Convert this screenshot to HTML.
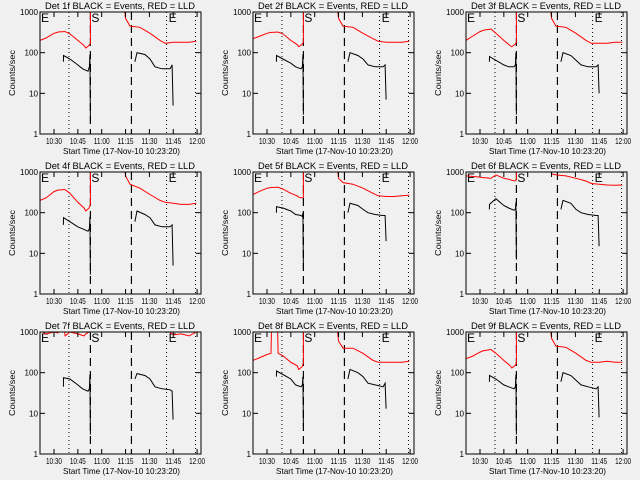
<!DOCTYPE html>
<html><head><meta charset="utf-8"><style>
html,body{margin:0;padding:0;background:#f0f0f0}
svg{display:block}
text{font-family:"Liberation Sans",sans-serif;fill:#000}
</style></head><body>
<svg id="chart" width="640" height="480" viewBox="0 0 640 480" xmlns="http://www.w3.org/2000/svg">
<rect width="640" height="480" fill="#f0f0f0"/>
</svg>
<script>
// times in minutes after 10:00
const redTimesA = [21.2, 25, 30, 32.5, 33, 36.5, 37, 40, 45, 48.9, 50, 52, 52.9, 52.9];
const redTimesB = [73.2, 75, 77.8, 84, 90.4, 96.7, 100, 105, 110, 115, 119.5];
const blackTimesA = [35.9, 36, 40, 45, 48, 51.4, 52.3, 52.6, 52.9];
const blackTimesB = [80.9, 82.2, 87.2, 90.4, 93.5, 98, 103, 104.3, 104.9];
const detectorNames = ["1f","2f","3f","4f","5f","6f","7f","8f","9f"];
const redA = [
 [200,230,300,320,325,330,330,290,200,150,130,150,170,3000],
 [220,250,300,315,315,320,320,290,200,160,140,160,180,3000],
 [200,250,330,360,360,380,380,300,200,150,140,160,180,3000],
 [200,230,330,360,360,370,370,300,180,130,110,130,160,3000],
 [280,330,400,415,415,420,420,380,300,260,240,230,240,3000],
 [800,780,750,720,720,700,700,850,700,650,620,600,650,3000],
 [1100,900,1000,950,1100,1200,800,1000,900,800,900,1000,1100,3000],
 [200,230,280,300,3000,3000,300,260,180,150,120,140,170,3000],
 [220,250,320,350,350,370,370,300,200,150,130,150,170,3000]
];
const redB = [
 [3000,700,450,420,300,200,170,180,180,180,190],
 [3000,700,450,420,300,220,190,180,180,180,190],
 [3000,700,450,420,300,200,170,170,170,180,180],
 [3000,800,500,400,280,200,180,170,160,160,170],
 [3000,700,550,500,400,300,260,250,250,260,270],
 [3000,900,850,800,700,600,520,500,480,470,480],
 [3000,3000,3000,3000,3000,3000,1200,850,900,800,1000],
 [3000,600,400,400,300,200,180,180,180,180,190],
 [3000,700,450,420,300,200,180,180,190,180,180]
];
const blackA = [
 [60,85,70,50,40,35,45,90,2],
 [60,85,70,55,45,40,45,90,3],
 [60,80,65,50,45,45,50,100,3],
 [50,75,60,45,40,35,40,80,3],
 [100,140,130,110,90,85,80,100,4],
 [120,160,220,150,130,115,120,180,7],
 [45,75,70,50,40,35,40,90,3],
 [80,110,90,70,50,45,50,80,5],
 [60,85,70,50,45,40,45,90,3]
];
const blackB = [
 [60,100,90,70,45,40,40,50,5],
 [60,100,85,70,50,45,45,50,7],
 [60,100,85,65,50,45,45,50,10],
 [60,110,90,75,50,45,45,50,5],
 [100,170,150,120,100,90,85,85,20],
 [120,200,170,120,100,90,85,85,15],
 [70,95,85,70,45,40,38,35,7],
 [70,120,100,80,55,50,45,55,13],
 [60,100,85,65,50,45,40,45,8]
];
const xTickTimes = [30,45,60,75,90,105,120];
const xTickLabels = ["10:30","10:45","11:00","11:15","11:30","11:45","12:00"];
const yTickValues = [1,10,100,1000];
const yTickLabels = ["1","10","100","1000"];
const dottedTimes = [39.4, 100.8, 119.0];
const dashedTimes = [52.9, 78.7];

const NS = "http://www.w3.org/2000/svg";
const svg = document.getElementById("chart");
const X0 = 40, X1 = 201, Y0 = 12, Y1 = 134, T0 = 21.2, PXM = 1.59;
function xs(t){ return X0 + (t - T0) * PXM; }
function ys(v){ return Y1 - Math.log10(v) * (Y1 - Y0) / 3; }
function mk(tag, attrs, parent){
  const e = document.createElementNS(NS, tag);
  for (const k in attrs) e.setAttribute(k, attrs[k]);
  parent.appendChild(e);
  return e;
}
function pathD(ts, vs){ return ts.map((t,i)=>(i?"L":"M")+xs(t).toFixed(1)+","+ys(vs[i]).toFixed(1)).join(""); }

for (let p = 0; p < 9; p++) {
  const ox = (p % 3) * 213, oy = Math.floor(p / 3) * 160;
  const g = mk("g", {transform:`translate(${ox},${oy})`}, svg);
  
  
  const cp = mk("clipPath", {id:"clip"+p}, g);
  mk("rect", {x:X0, y:Y0, width:X1-X0, height:Y1-Y0}, cp);

  const title = mk("text", {x:45, y:9, "font-size":"9", textLength:"150", lengthAdjust:"spacingAndGlyphs"}, g);
  title.textContent = "Det " + detectorNames[p] + " BLACK = Events, RED = LLD";
  
  

  dottedTimes.forEach(t => {
    const l = mk("line", {x1:xs(t), x2:xs(t), y1:Y0, y2:Y1, stroke:"#000", "stroke-width":1, "stroke-dasharray":"1,3"}, g);
    
    
  });
  dashedTimes.forEach(t => {
    const l = mk("line", {x1:xs(t), x2:xs(t), y1:Y0, y2:Y1, stroke:"#000", "stroke-width":1.2, "stroke-dasharray":"8,5"}, g);
    
    
  });
  [["E", X0+1], ["S", xs(dashedTimes[0])+1], ["E", xs(dottedTimes[1])+2]].forEach(([s,x]) => {
    const t = mk("text", {x:x, y:Y0+10, "font-size":"12"}, g);
    t.textContent = s;
    
    
  });

  const cg = mk("g", {"clip-path":`url(#clip${p})`, fill:"none"}, g);
  const r1 = mk("path", {d:pathD(redTimesA, redA[p]), stroke:"#ff0000", "stroke-width":1}, cg);
  
  
  const r2 = mk("path", {d:pathD(redTimesB, redB[p]), stroke:"#ff0000", "stroke-width":1}, cg);
  
  
  const b1 = mk("path", {d:pathD(blackTimesA, blackA[p]), stroke:"#000", "stroke-width":1}, cg);
  
  
  const b2 = mk("path", {d:pathD(blackTimesB, blackB[p]), stroke:"#000", "stroke-width":1}, cg);
  
  

  const box = mk("rect", {x:X0, y:Y0, width:X1-X0, height:Y1-Y0, fill:"none", stroke:"#000", "stroke-width":1}, g);
  
  

  yTickValues.forEach((v,i) => {
    const y = ys(v);
    mk("line", {x1:X0, x2:X0+5, y1:y, y2:y, stroke:"#000"}, g);
    mk("line", {x1:X1-5, x2:X1, y1:y, y2:y, stroke:"#000"}, g);
    const lbl = yTickLabels[i];
    const t = mk("text", {x:X0-2, y:y+3, "font-size":"8", "text-anchor":"end", textLength:String(4.5*lbl.length), lengthAdjust:"spacingAndGlyphs"}, g);
    t.textContent = lbl;
    
    
  });
  xTickTimes.forEach((tm,i) => {
    const x = xs(tm);
    mk("line", {x1:x, x2:x, y1:Y1, y2:Y1-5, stroke:"#000"}, g);
    mk("line", {x1:x, x2:x, y1:Y0, y2:Y0+5, stroke:"#000"}, g);
    const t = mk("text", {x:x-8, y:Y1+10, "font-size":"8", textLength:"16", lengthAdjust:"spacingAndGlyphs"}, g);
    t.textContent = xTickLabels[i];
    
    
  });
  const yl = mk("text", {x:0, y:0, "font-size":"8", "text-anchor":"middle", textLength:"46", lengthAdjust:"spacingAndGlyphs", transform:`translate(15,${(Y0+Y1)/2}) rotate(-90)`}, g);
  yl.textContent = "Counts/sec";
  
  
  const xl = mk("text", {x:63, y:Y1+20, "font-size":"8.5", textLength:"117", lengthAdjust:"spacingAndGlyphs"}, g);
  xl.textContent = "Start Time (17-Nov-10 10:23:20)";
  
  
}
</script>
</body></html>
